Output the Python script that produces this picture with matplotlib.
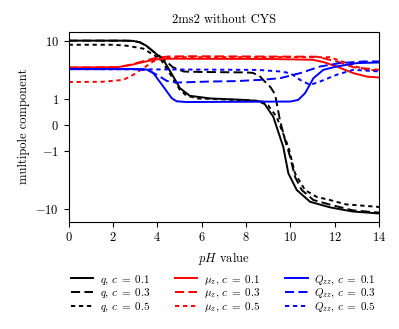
import numpy as np
import matplotlib
matplotlib.use("Agg")
import matplotlib.pyplot as plt

plt.rcParams['font.family'] = 'serif'
plt.rcParams['font.serif'] = ['cmr10', 'DejaVu Serif']
plt.rcParams['mathtext.fontset'] = 'cm'
plt.rcParams['axes.unicode_minus'] = False

# values (pH, component)
q1_ph = [0, 2.5, 2.9, 3.2, 3.5, 3.82, 4.27, 4.72, 5.02, 5.47, 6.4, 8.0, 8.77, 9.23, 9.68, 9.91, 10.29, 10.89, 11.79, 12.8, 14]
q1_v = [10.0, 10.0, 9.9, 9.4, 8.2, 6.5, 4.7, 2.42, 1.53, 1.13, 1.02, 0.96, 0.895, 0.31, -0.85, -2.44, -4.72, -7.5, -9.35, -11.0, -11.9]

q3_ph = [0, 2.5, 2.9, 3.2, 3.5, 3.82, 4.27, 4.7, 5.2, 6.0, 8.0, 8.3, 8.6, 8.92, 9.1, 9.31, 9.53, 9.76, 9.99, 10.21, 10.51, 11.04, 11.79, 12.8, 14]
q3_v = [10.0, 10.0, 9.9, 9.4, 8.2, 6.5, 4.9, 3.5, 2.95, 2.9, 2.85, 2.8, 2.5, 1.86, 1.6, 1.2, 0.18, -0.59, -1.27, -2.8, -4.7, -7.0, -8.4, -10.5, -11.5]

q5_ph = [0, 2.0, 2.6, 3.37, 3.82, 4.12, 4.72, 5.02, 5.3, 5.8, 7.0, 8.5, 9.0, 9.38, 9.91, 10.21, 10.66, 11.19, 11.79, 12.5, 14]
q5_v = [8.5, 8.5, 8.2, 7.3, 5.7, 5.0, 2.2, 1.43, 1.15, 1.02, 0.98, 0.93, 0.75, 0.31, -0.85, -2.44, -4.72, -6.2, -7.0, -8.3, -9.2]

mu1_ph = [0, 2.2, 2.77, 3.37, 3.97, 4.5, 9.0, 11.0, 11.49, 12.09, 12.84, 13.45, 14]
mu1_v = [3.45, 3.5, 3.8, 4.3, 4.8, 4.9, 4.85, 4.7, 4.29, 3.6, 2.77, 2.42, 2.33]

mu3_ph = [0, 2.2, 2.77, 3.37, 3.97, 4.5, 5.5, 11.19, 12.09, 12.84, 14]
mu3_v = [3.45, 3.5, 3.85, 4.45, 5.1, 5.35, 5.4, 5.3, 4.4, 3.5, 3.16]

mu5_ph = [0, 1.5, 2.46, 2.92, 3.37, 3.82, 4.27, 4.8, 11.79, 12.54, 13.3, 14]
mu5_v = [1.95, 1.97, 2.12, 2.6, 3.38, 4.4, 5.0, 5.2, 5.2, 4.12, 3.25, 3.04]

Q1_ph = [0, 3.0, 3.52, 3.82, 4.27, 4.65, 4.87, 5.3, 10.0, 10.35, 10.66, 11.04, 11.49, 12.09, 13.0, 14]
Q1_v = [3.25, 3.25, 3.2, 2.77, 1.63, 1.03, 0.91, 0.88, 0.9, 0.96, 1.25, 2.27, 3.16, 3.6, 4.12, 4.22]

Q3_ph = [0, 3.0, 3.6, 4.12, 4.42, 4.87, 6.38, 7.5, 8.62, 9.54, 10.44, 11.34, 12.24, 13.3, 14]
Q3_v = [3.25, 3.25, 3.1, 2.42, 2.04, 1.91, 1.99, 2.02, 2.12, 2.27, 2.77, 3.6, 4.12, 4.4, 4.4]

Q5_ph = [0, 5.0, 8.5, 9.54, 9.99, 10.44, 10.89, 11.34, 12.09, 12.84, 14]
Q5_v = [3.25, 3.2, 3.15, 2.96, 2.77, 2.12, 1.74, 1.99, 2.6, 3.16, 2.96]

conc = ['0.1', '0.3', '0.5']
styles = ['-', (0, (4.7, 2.2)), (0, (2.2, 1.9))]

fig = plt.figure(figsize=(3.99, 3.29), dpi=100)
ax = fig.add_axes([0.172, 0.326, 0.778, 0.578])

series = [
    ('k', r'$q$', [(q1_ph, q1_v), (q3_ph, q3_v), (q5_ph, q5_v)]),
    ('r', r'$\mu_z$', [(mu1_ph, mu1_v), (mu3_ph, mu3_v), (mu5_ph, mu5_v)]),
    ('b', r'$Q_{zz}$', [(Q1_ph, Q1_v), (Q3_ph, Q3_v), (Q5_ph, Q5_v)]),
]
for color, name, curves in series:
    for (xs, ys), ls, c in zip(curves, styles, conc):
        ax.plot(xs, ys, color=color, ls=ls, lw=1.4, label=name + r', $c\;=\;' + c + '$')

ax.set_yscale('symlog', linthresh=1, linscale=0.4)
ax.set_xlim(0, 14)
ax.set_ylim(-16.5, 14.3)
ax.set_yticks([-10, -1, 0, 1, 10])
ax.set_yticklabels([r'$-10$', r'$-1$', r'$0$', r'$1$', r'$10$'])
ax.yaxis.set_minor_locator(matplotlib.ticker.NullLocator())
ax.set_xticks(range(0, 15, 2))
ax.set_xticklabels(['$%d$' % t for t in range(0, 15, 2)])
ax.tick_params(labelsize=9, length=3.5)

ax.set_title('2ms2 without CYS', fontsize=9)
ax.set_xlabel('$pH$ value', fontsize=9)
ax.set_ylabel('multipole component', fontsize=9)

fig.legend(loc='upper center', bbox_to_anchor=(0.56, 0.2), ncol=3, frameon=False,
           fontsize=8, handlelength=2.05, columnspacing=2.2, labelspacing=0.05, handletextpad=0.6)

fig.savefig('out.png', dpi=100)
